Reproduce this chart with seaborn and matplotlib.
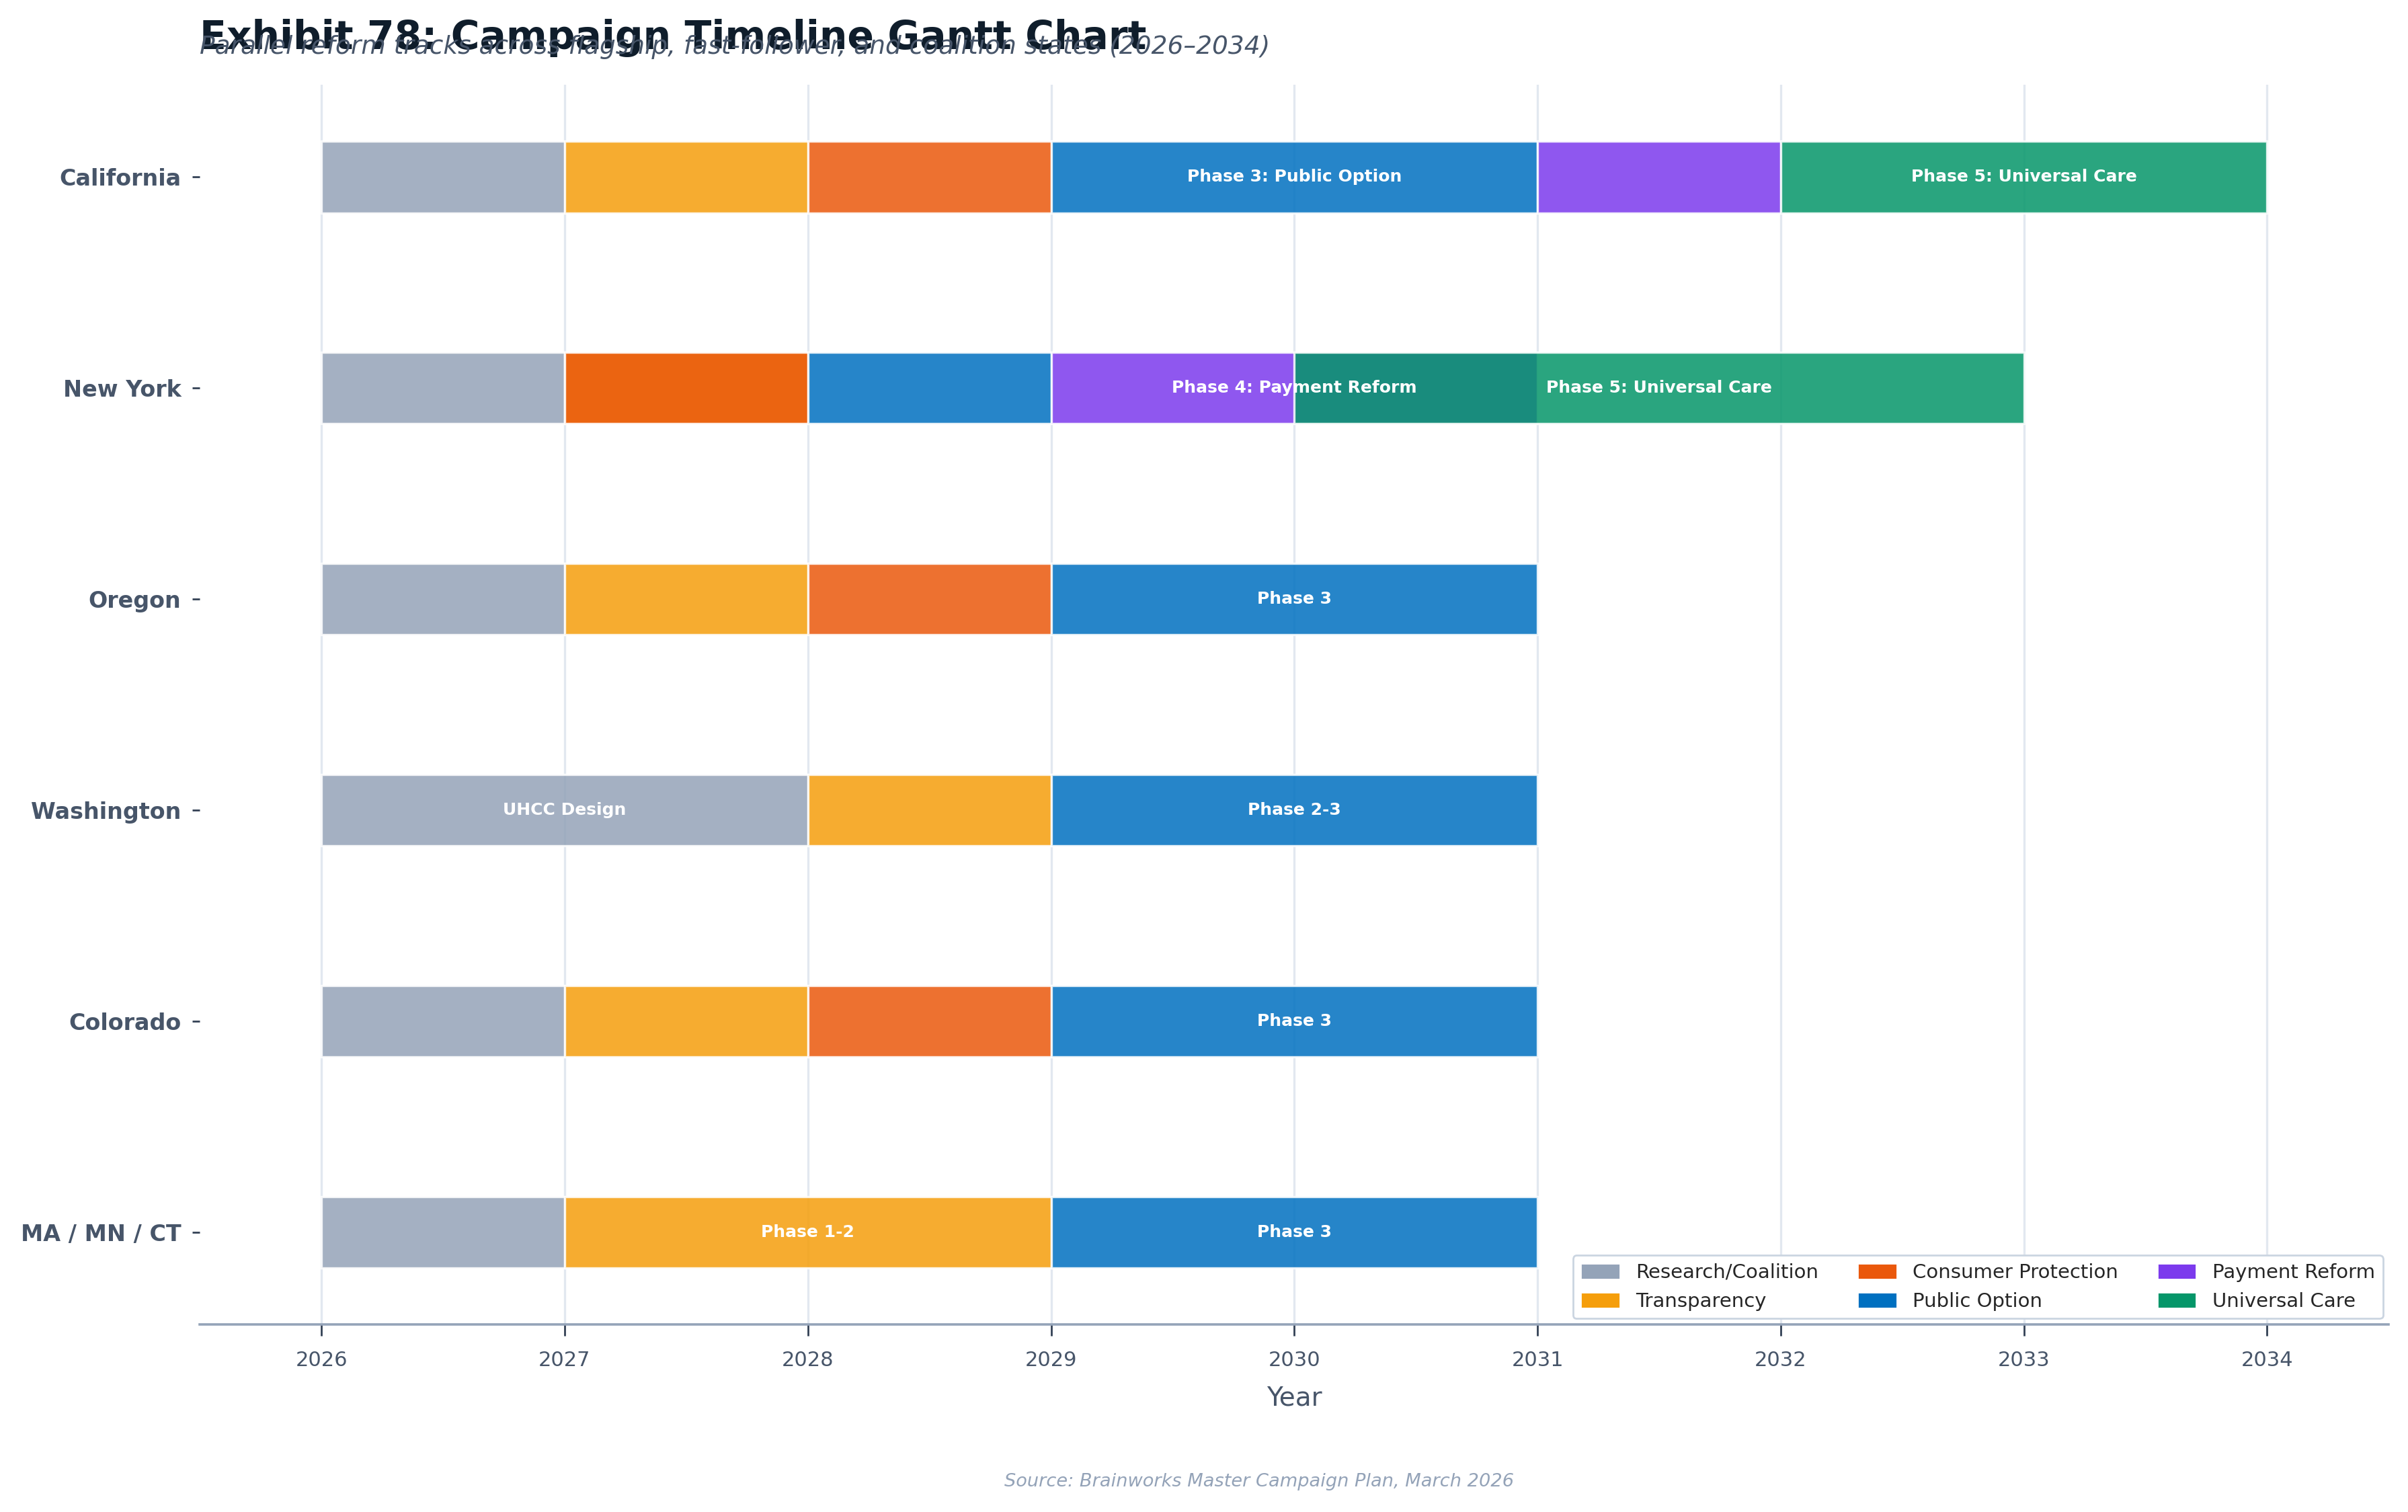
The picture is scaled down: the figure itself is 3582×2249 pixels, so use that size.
import matplotlib
matplotlib.use("Agg")
import matplotlib.pyplot as plt
import seaborn as sns
from matplotlib.patches import Patch

# rows of the gantt, top to bottom
states = ["California", "New York", "Oregon", "Washington", "Colorado", "MA / MN / CT"]

categories = ["Research/Coalition", "Transparency", "Consumer Protection",
              "Public Option", "Payment Reform", "Universal Care"]
cat_colors = ["#94A3B8", "#F59E0B", "#EA580C", "#0070C0", "#7C3AED", "#059669"]

# one entry per bar
task_state = ["California"] * 6 + ["New York"] * 6 + ["Oregon"] * 4 + ["Washington"] * 3 \
    + ["Colorado"] * 4 + ["MA / MN / CT"] * 3
task_start = [2026, 2027, 2028, 2029, 2031, 2032,
              2026, 2027, 2027, 2028, 2029, 2030,
              2026, 2027, 2028, 2029,
              2026, 2028, 2029,
              2026, 2027, 2028, 2029,
              2026, 2027, 2029]
task_end = [2027, 2028, 2029, 2031, 2032, 2034,
            2027, 2028, 2028, 2029, 2031, 2033,
            2027, 2028, 2029, 2031,
            2028, 2029, 2031,
            2027, 2028, 2029, 2031,
            2027, 2029, 2031]
task_cat = ["Research/Coalition", "Transparency", "Consumer Protection", "Public Option", "Payment Reform", "Universal Care",
            "Research/Coalition", "Transparency", "Consumer Protection", "Public Option", "Payment Reform", "Universal Care",
            "Research/Coalition", "Transparency", "Consumer Protection", "Public Option",
            "Research/Coalition", "Transparency", "Public Option",
            "Research/Coalition", "Transparency", "Consumer Protection", "Public Option",
            "Research/Coalition", "Transparency", "Public Option"]
task_label = ["", "", "", "Phase 3: Public Option", "", "Phase 5: Universal Care",
              "", "", "", "", "Phase 4: Payment Reform", "Phase 5: Universal Care",
              "", "", "", "Phase 3",
              "UHCC Design", "", "Phase 2-3",
              "", "", "", "Phase 3",
              "", "Phase 1-2", "Phase 3"]

years = list(range(2026, 2035))

sns.set_theme(style="whitegrid")
plt.rcParams["font.family"] = ["DejaVu Sans"]

color_of = dict(zip(categories, cat_colors))
row_of = {s: i for i, s in enumerate(states)}

fig, ax = plt.subplots(figsize=(17.91, 11.245), dpi=200)
fig.subplots_adjust(left=0.083, right=0.992, top=0.944, bottom=0.124)

for st, a, b, c, lab in zip(task_state, task_start, task_end, task_cat, task_label):
    y = row_of[st]
    ax.barh(y, b - a, left=a, height=0.34, color=color_of[c], alpha=0.85,
            edgecolor="white", linewidth=1.2, zorder=2)

for st, a, b, c, lab in zip(task_state, task_start, task_end, task_cat, task_label):
    if lab:
        ax.text((a + b) / 2, row_of[st], lab, ha="center", va="center",
                color="white", fontsize=9, fontweight="bold", zorder=5)

ax.set_yticks(range(len(states)))
ax.set_yticklabels(states, fontsize=12, fontweight="bold", color="#475569")
ax.invert_yaxis()
ax.set_xlim(2025.5, 2034.5)
ax.set_xticks(years)
ax.set_xticklabels([str(y) for y in years], fontsize=11, color="#475569")
ax.set_xlabel("Year", fontsize=14, color="#475569", labelpad=8)

ax.grid(axis="y", visible=False)
ax.grid(axis="x", color="#E2E8F0", linewidth=1.2, zorder=0)
ax.set_axisbelow(True)
for side in ["top", "right", "left"]:
    ax.spines[side].set_visible(False)
ax.spines["bottom"].set_color("#94A3B8")
ax.spines["bottom"].set_linewidth(1.3)
ax.tick_params(axis="x", length=6, width=1, color="#334155", pad=8, bottom=True)
ax.tick_params(axis="y", length=4, width=1, color="#334155", pad=6, left=True)

handles = [Patch(facecolor=col, label=cat) for cat, col in zip(categories, cat_colors)]
ax.legend(handles=handles, loc="lower right", ncol=3, fontsize=10.5, frameon=True,
          edgecolor="#CBD5E1", facecolor="white", framealpha=1, borderaxespad=0.3,
          handlelength=2.0, handleheight=0.9, columnspacing=2.0)

fig.text(0.083, 0.975, "Exhibit 78: Campaign Timeline Gantt Chart", fontsize=21,
         fontweight="bold", color="#0F1D2B", ha="left", va="center")
fig.text(0.083, 0.969, "Parallel reform tracks across flagship, fast-follower, and coalition states (2026\u20132034)",
         fontsize=13.5, style="italic", color="#475569", ha="left", va="center")
fig.text(0.523, 0.02, "Source: Brainworks Master Campaign Plan, March 2026", fontsize=9.8,
         style="italic", color="#94A3B8", ha="center", va="center")

fig.savefig("out.png", dpi=200, facecolor="white")
